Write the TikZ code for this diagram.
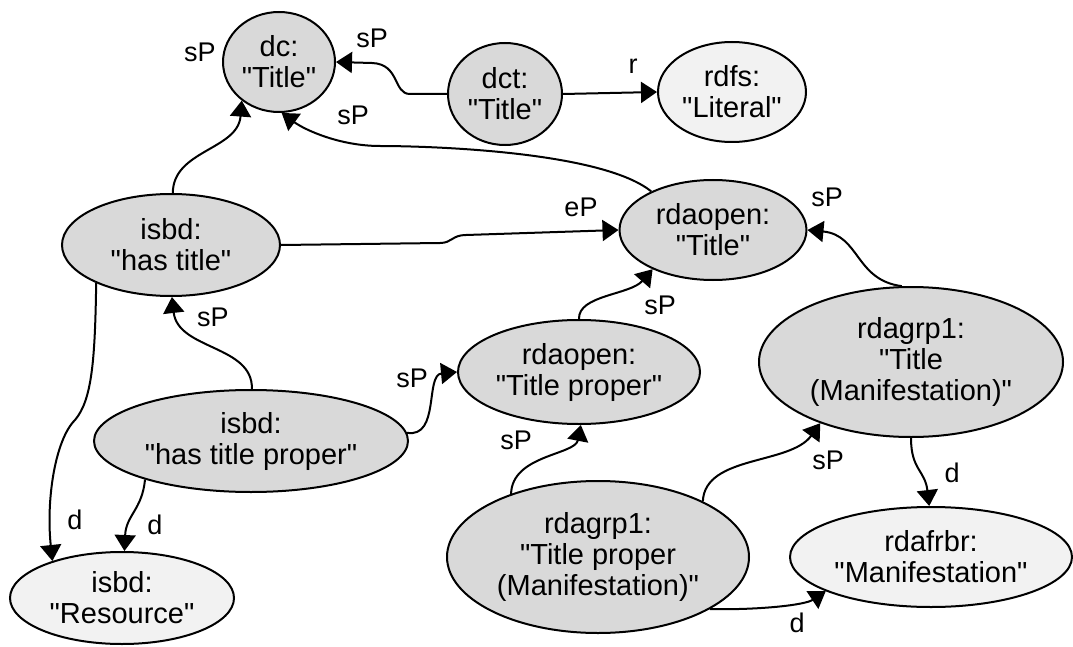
\documentclass[tikz,border=0pt]{standalone}
\usepackage{fontspec}
\setmainfont{Liberation Sans}[Ligatures=TeXOff]
\usetikzlibrary{arrows.meta,shapes.geometric}
\definecolor{nodegray}{HTML}{D9D9D9}
\definecolor{nodelight}{HTML}{F2F2F2}
\tikzset{
  term/.style={ellipse, draw=black, line width=2pt, fill=nodegray, inner sep=0pt,
    align=center, font=\fontsize{29}{31}\selectfont},
  cls/.style={term, fill=nodelight},
  rel/.style={line width=2pt, -{Triangle[length=16pt,width=21pt]}},
  lab/.style={font=\fontsize{27}{29}\selectfont, inner sep=0pt},
}
\begin{document}
\begin{tikzpicture}[x=1pt,y=1pt]
\useasboundingbox (0,0) rectangle (1073,-647);

% properties and classes
\node[term, minimum width=112pt, minimum height=100pt] (dc)   at (279,-62)  {dc:\\"Title"};
\node[term, minimum width=114pt, minimum height=102pt] (dct)  at (505,-94)  {dct:\\"Title"};
\node[cls,  minimum width=148pt, minimum height=100pt] (lit)  at (732,-92)  {rdfs:\\"Literal"};
\node[term, minimum width=218pt, minimum height=102pt] (ht)   at (171,-245) {isbd:\\"has title"};
\node[term, minimum width=187pt, minimum height=100pt] (ro)   at (713,-230) {rdaopen:\\"Title"};
\node[term, minimum width=242pt, minimum height=104pt] (rtp)  at (579,-372) {rdaopen:\\"Title proper"};
\node[term, minimum width=314pt, minimum height=102pt] (htp)  at (251,-441) {isbd:\\"has title proper"};
\node[term, minimum width=304pt, minimum height=150pt] (rg)   at (911,-362) {rdagrp1:\\"Title\\(Manifestation)"};
\node[term, minimum width=302pt, minimum height=152pt] (rtpm) at (598,-557) {rdagrp1:\\"Title proper\\(Manifestation)"};
\node[cls,  minimum width=282pt, minimum height=100pt] (frbr) at (931,-557) {rdafrbr:\\"Manifestation"};
\node[cls,  minimum width=224pt, minimum height=92pt]  (res)  at (122,-598) {isbd:\\"Resource"};

% relations
\draw[rel] (dct.west) -- (410,-94) .. controls (393,-94) and (400,-64) .. (372,-63) -- (dc.east);
\draw[rel] (dct.east) -- (lit.west);
\draw[rel] (ro.148) .. controls (600,-150) and (420,-146) .. (380,-146)
                    .. controls (340,-146) and (305,-130) .. (dc.-87);
\draw[rel] (ht.88) .. controls (173,-150) and (238,-150) .. (dc.226);
\draw[rel] (ht.east) -- (440,-243) .. controls (452,-243) and (452,-235) .. (466,-235) -- (ro.west);
\draw[rel] (rtp.90) .. controls (578,-295) and (630,-295) .. (ro.213);
\draw[rel] (rg.97) .. controls (855,-280) and (860,-235) .. (ro.east);
\draw[rel] (htp.89) .. controls (253,-345) and (178,-350) .. (ht.-89);
\draw[rel] (htp.3) .. controls (440,-438) and (425,-375) .. (rtp.west);
\draw[rel] (ht.207) .. controls (95,-360) and (92,-400) .. (75,-420)
                   .. controls (55,-440) and (46,-500) .. (res.152);
\draw[rel] (htp.200) .. controls (142,-510) and (126,-515) .. (res.87);
\draw[rel] (rtpm.144) .. controls (512,-455) and (575,-455) .. (rtp.-88);
\draw[rel] (rtpm.28) .. controls (705,-455) and (790,-465) .. (rg.214);
\draw[rel] (rg.-90) .. controls (911,-470) and (925,-470) .. (frbr.92);
\draw[rel] (rtpm.-25) .. controls (760,-610) and (805,-605) .. (frbr.198);

% relation labels
\node[lab] (l1)  at (372,-38)  {sP};
\node[lab] (l2)  at (200,-52)  {sP};
\node[lab] (l3)  at (353,-115) {sP};
\node[lab] (l4)  at (633,-66)  {r};
\node[lab] (l5)  at (581,-207) {eP};
\node[lab] (l6)  at (660,-305) {sP};
\node[lab] (l7)  at (827,-197) {sP};
\node[lab] (l8)  at (213,-317) {sP};
\node[lab] (l9)  at (412,-378) {sP};
\node[lab] (l10) at (75,-520)  {d};
\node[lab] (l11) at (155,-525) {d};
\node[lab] (l12) at (516,-440) {sP};
\node[lab] (l13) at (828,-460) {sP};
\node[lab] (l14) at (952,-473) {d};
\node[lab] (l15) at (797,-623) {d};
\end{tikzpicture}
\end{document}
